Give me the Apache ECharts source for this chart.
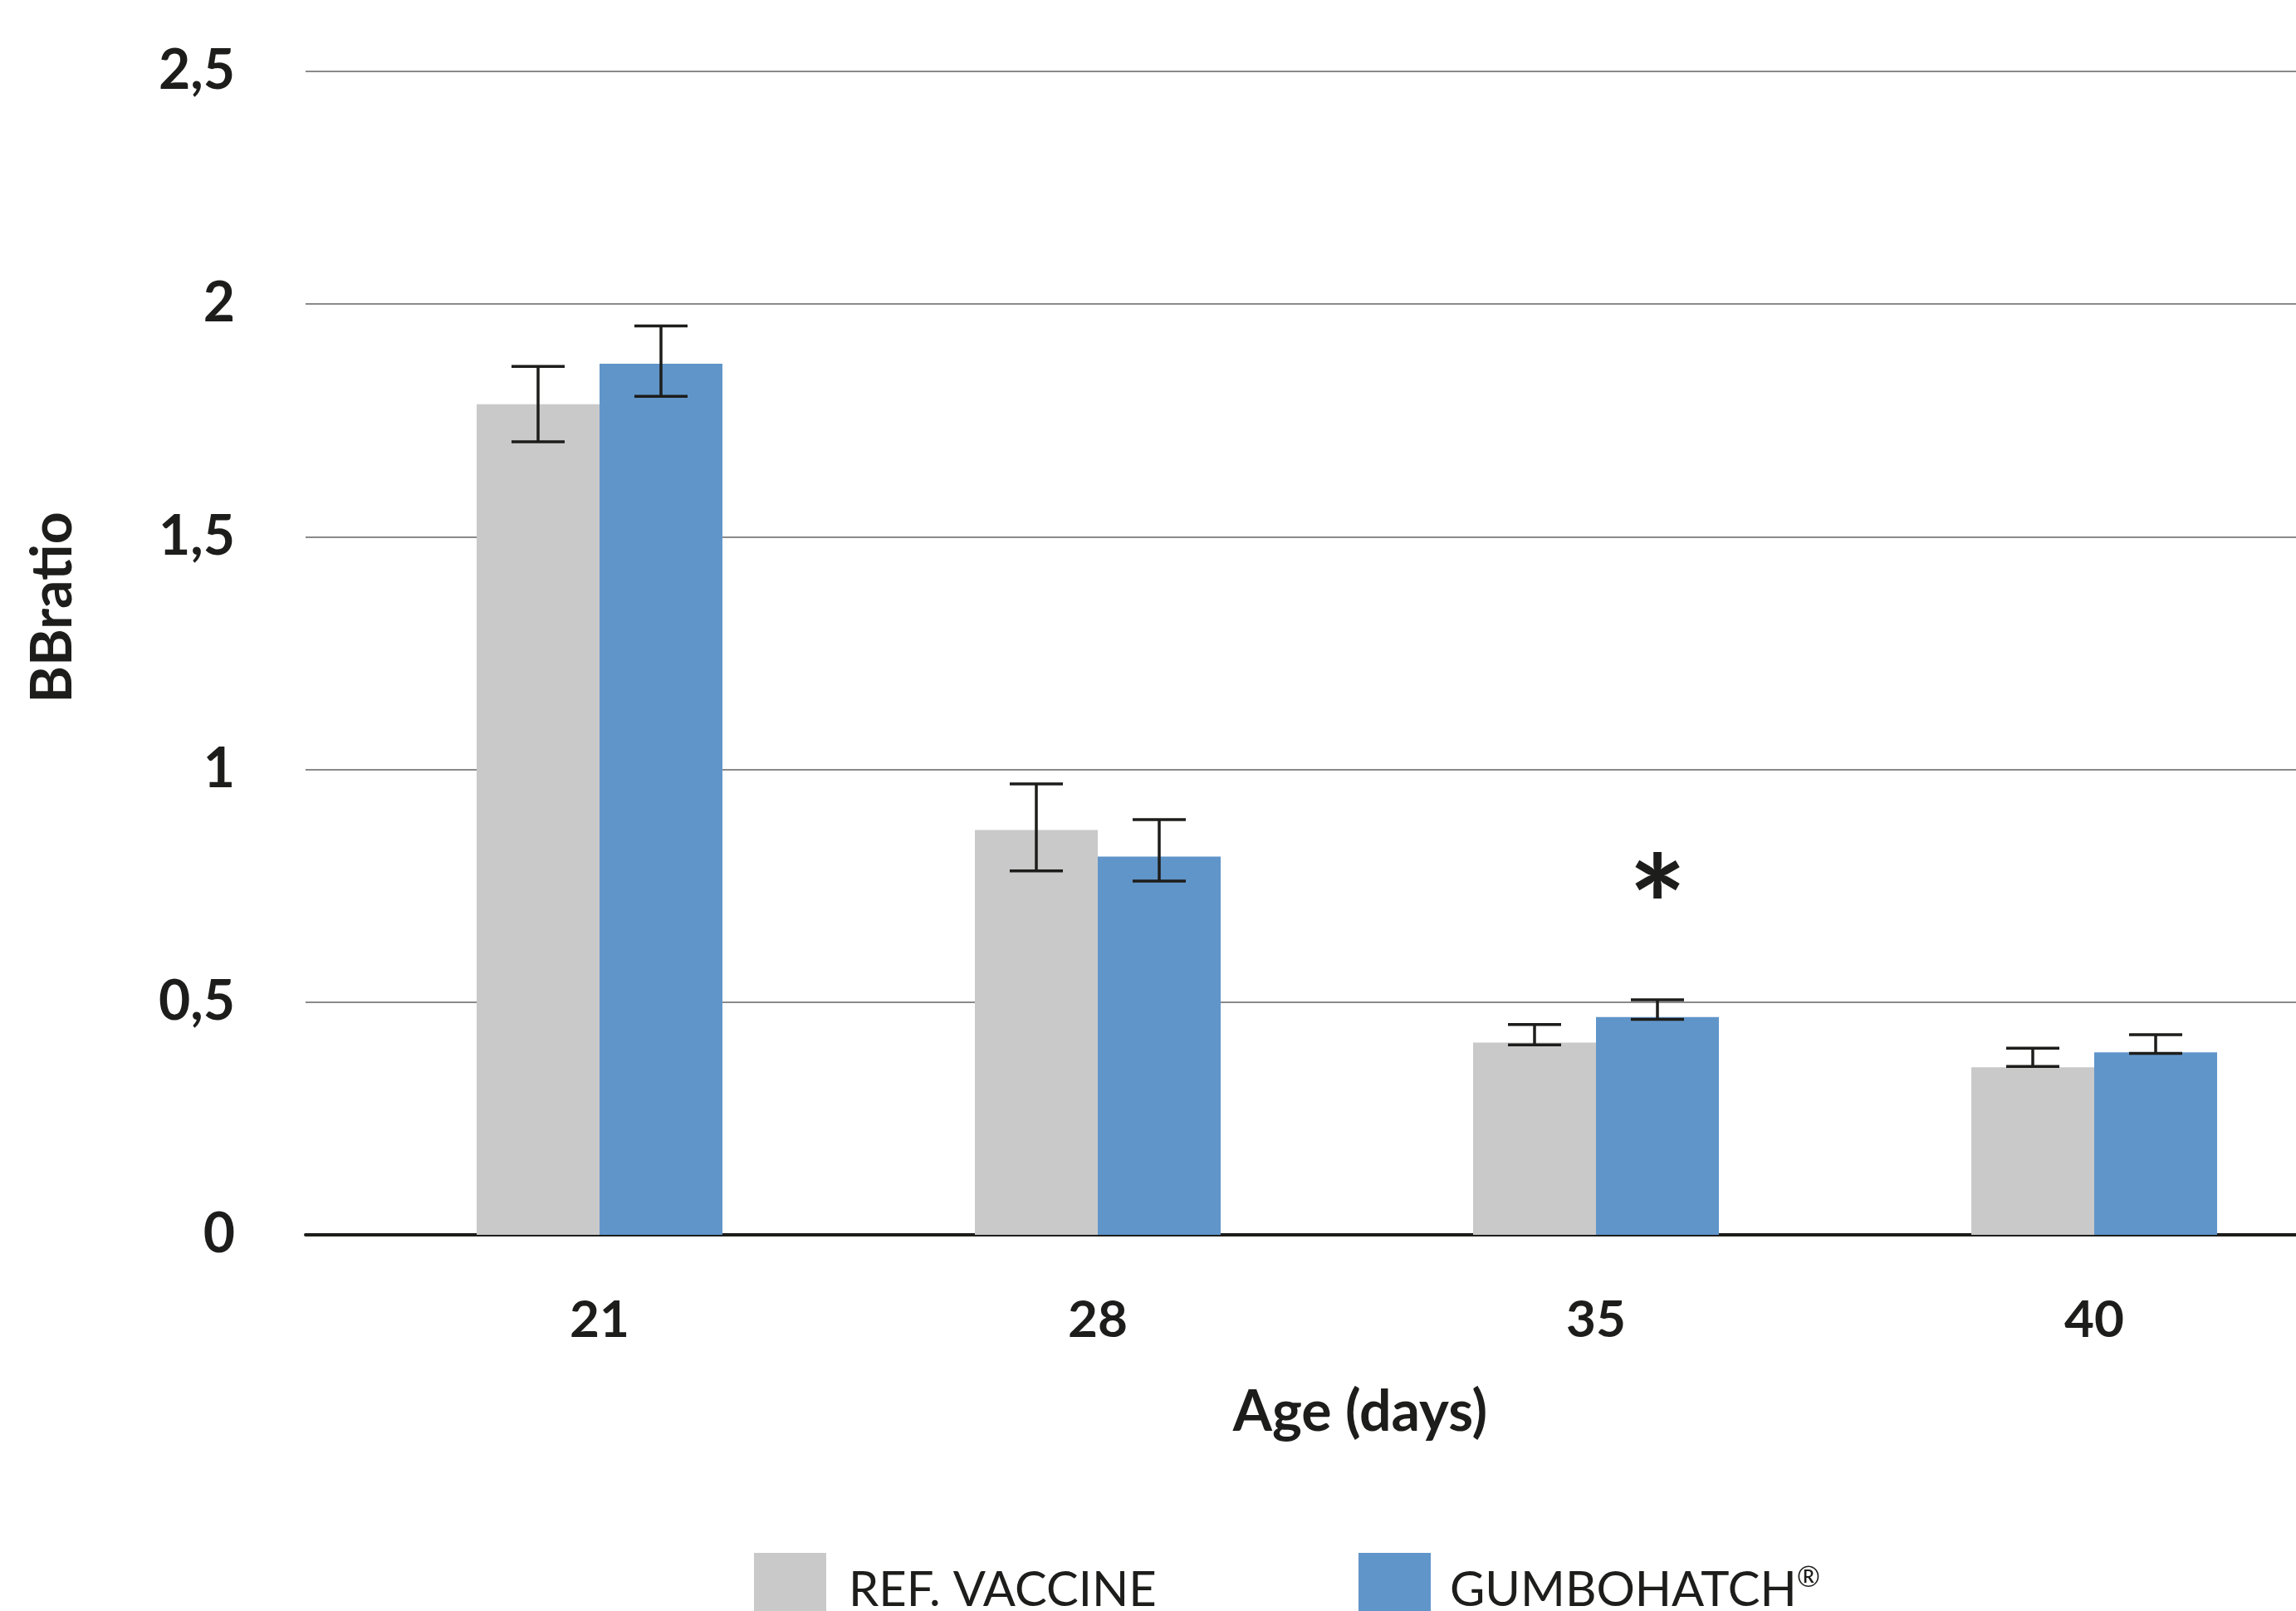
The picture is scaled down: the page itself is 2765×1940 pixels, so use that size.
<!DOCTYPE html>
<html>
<head>
<meta charset="utf-8">
<script src="https://cdn.jsdelivr.net/npm/echarts@6/dist/echarts.min.js"></script>
<style>
  html, body { margin: 0; padding: 0; background: #fff; }
  #main { width: 2765px; height: 1940px; }
</style>
</head>
<body>
<div id="main"></div>
<script>
// values
const ages = ['21', '28', '35', '40'];
const refVaccine = [1.785, 0.870, 0.413, 0.360];
const refErrHigh = [1.866, 0.969, 0.452, 0.401];
const refErrLow = [1.704, 0.782, 0.408, 0.362];
const gumbohatch = [1.872, 0.813, 0.468, 0.392];
const gumboErrHigh = [1.953, 0.892, 0.505, 0.430];
const gumboErrLow = [1.802, 0.760, 0.463, 0.390];
const gumboSignif = ['', '', '*', ''];
const yTickLabels = ['0', '0,5', '1', '1,5', '2', '2,5'];

const seriesNames = ['REF. VACCINE', 'GUMBOHATCH®'];
const colors = ['#c9c9c9', '#6095c9'];
const ink = '#1d1d1b';
const font = 'Lato';
const barW = 148;

// error bar drawer, offset = shift from the category centre to the bar centre
function errorBar(offset, marks) {
  return function (params, api) {
    const i = api.value(0);
    const hi = api.coord([i, api.value(1)]);
    const lo = api.coord([i, api.value(2)]);
    const x = hi[0] + offset;
    const cap = 32;
    const st = { stroke: ink, lineWidth: 3.5 };
    const children = [
      { type: 'line', shape: { x1: x, y1: hi[1], x2: x, y2: lo[1] }, style: st },
      { type: 'line', shape: { x1: x - cap, y1: hi[1], x2: x + cap, y2: hi[1] }, style: st },
      { type: 'line', shape: { x1: x - cap, y1: lo[1], x2: x + cap, y2: lo[1] }, style: st }
    ];
    if (marks && marks[params.dataIndex]) {
      children.push({
        type: 'text',
        x: x,
        y: hi[1] - 106,
        style: {
          text: marks[params.dataIndex],
          fill: ink,
          fontSize: 165,
          fontWeight: 'bold',
          fontFamily: font,
          align: 'center',
          verticalAlign: 'middle'
        }
      });
    }
    return { type: 'group', children: children };
  };
}

// legend label, ® drawn small and raised
function legendLabel(name) {
  if (name.slice(-1) === '®') {
    return '{t|' + name.slice(0, -1) + '}{r|®}';
  }
  return '{t|' + name + '}';
}
const legendRich = {
  t: { fontSize: 58, fontFamily: font, color: ink },
  r: { fontSize: 34, fontFamily: font, color: ink, padding: [0, 0, 30, 0] }
};

const chart = echarts.init(document.getElementById('main'), null, { renderer: 'canvas' });

const option = {
  backgroundColor: '#fff',
  animation: false,
  color: colors,
  grid: [
    // frame: gridlines, y labels, x axis line and ticks
    { left: 368, top: 86, width: 2480, height: 1401, outerBoundsMode: 'none' },
    // bars
    { left: 422, top: 86, width: 2400, height: 1401, outerBoundsMode: 'none' }
  ],
  legend: [{
    data: [seriesNames[0]],
    left: 908, top: 1870, padding: 0,
    icon: 'rect', itemWidth: 87, itemHeight: 90,
    selectedMode: false,
    formatter: legendLabel,
    textStyle: { fontSize: 58, fontFamily: font, color: ink, padding: [0, 0, 0, 22], rich: legendRich }
  }, {
    data: [seriesNames[1]],
    left: 1636, top: 1870, padding: 0,
    icon: 'rect', itemWidth: 87, itemHeight: 90,
    selectedMode: false,
    formatter: legendLabel,
    textStyle: { fontSize: 58, fontFamily: font, color: ink, padding: [0, 0, 0, 18], rich: legendRich }
  }],
  xAxis: [{
    gridIndex: 0,
    type: 'category',
    data: ages,
    axisLine: { lineStyle: { color: ink, width: 4 } },
    axisTick: { length: 20, lineStyle: { color: ink, width: 1.5 } },
    axisLabel: { show: false }
  }, {
    gridIndex: 0,
    type: 'category',
    data: ages,
    axisLine: { show: false },
    axisTick: { inside: true, length: 20, lineStyle: { color: ink, width: 1.5 } },
    axisLabel: { show: false }
  }, {
    gridIndex: 1,
    type: 'category',
    data: ages,
    axisLine: { show: false },
    axisTick: { show: false },
    axisLabel: {
      margin: 72,
      fontSize: 62,
      fontWeight: 'bold',
      fontFamily: font,
      color: ink
    },
    name: 'Age (days)',
    nameLocation: 'middle',
    nameGap: 180,
    nameTextStyle: {
      fontSize: 68,
      fontWeight: 'bold',
      fontFamily: font,
      color: ink,
      padding: [0, 0, 0, 32]
    }
  }],
  yAxis: [{
    gridIndex: 0,
    type: 'value',
    min: 0,
    max: 2.5,
    interval: 0.5,
    axisLine: { show: false },
    axisTick: { show: false },
    splitLine: { lineStyle: { color: '#8a8a8a', width: 2 } },
    axisLabel: {
      margin: 85,
      fontSize: 66,
      fontWeight: 'bold',
      fontFamily: font,
      color: ink,
      formatter: function (v) { return yTickLabels[Math.round(v / 0.5)]; }
    },
    name: 'BBratio',
    nameLocation: 'middle',
    nameGap: 270,
    nameTextStyle: {
      fontSize: 68,
      fontWeight: 'bold',
      fontFamily: font,
      color: ink,
      padding: [0, 0, 0, 110]
    }
  }, {
    gridIndex: 1,
    type: 'value',
    min: 0,
    max: 2.5,
    interval: 0.5,
    show: false
  }],
  series: [{
    name: seriesNames[0],
    type: 'bar',
    xAxisIndex: 2,
    yAxisIndex: 1,
    barWidth: barW,
    barGap: '0%',
    itemStyle: { color: colors[0] },
    data: refVaccine
  }, {
    name: seriesNames[1],
    type: 'bar',
    xAxisIndex: 2,
    yAxisIndex: 1,
    barWidth: barW,
    barGap: '0%',
    itemStyle: { color: colors[1] },
    data: gumbohatch
  }, {
    name: 'ref err',
    type: 'custom',
    xAxisIndex: 2,
    yAxisIndex: 1,
    z: 5,
    renderItem: errorBar(-barW / 2),
    encode: { x: 0, y: [1, 2] },
    data: ages.map(function (a, i) { return [i, refErrHigh[i], refErrLow[i]]; })
  }, {
    name: 'gumbo err',
    type: 'custom',
    xAxisIndex: 2,
    yAxisIndex: 1,
    z: 5,
    renderItem: errorBar(barW / 2, gumboSignif),
    encode: { x: 0, y: [1, 2] },
    data: ages.map(function (a, i) { return [i, gumboErrHigh[i], gumboErrLow[i]]; })
  }]
};

chart.setOption(option);
</script>
</body>
</html>
